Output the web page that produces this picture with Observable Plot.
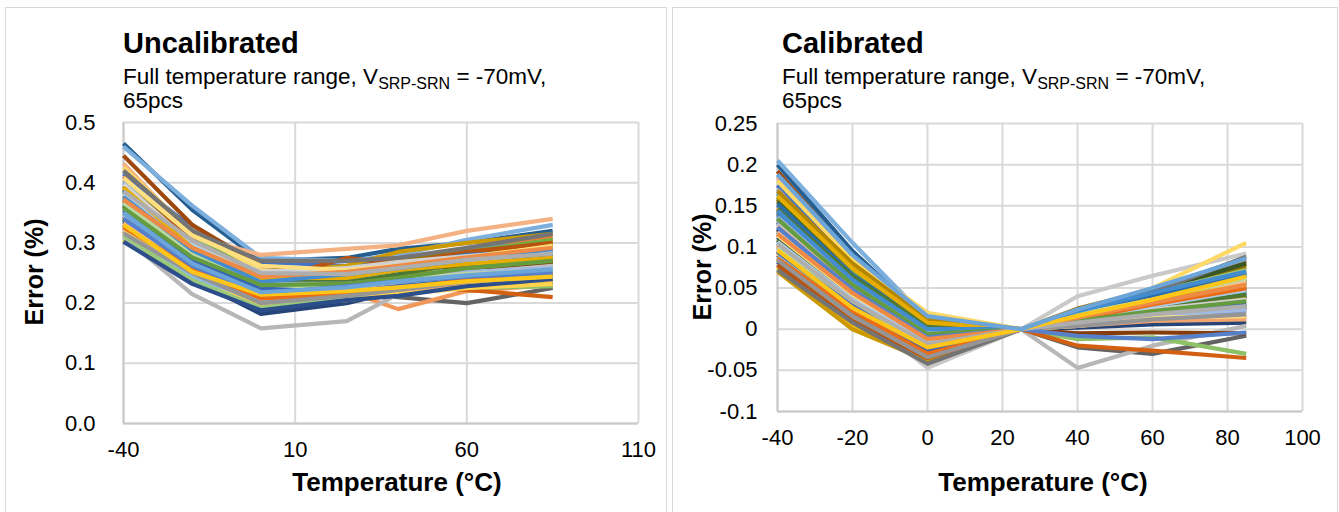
<!DOCTYPE html>
<html>
<head>
<meta charset="utf-8">
<script src="https://cdn.jsdelivr.net/npm/d3@7"></script>
<script src="https://cdn.jsdelivr.net/npm/@observablehq/plot@0.6"></script>
<style>
  html, body { margin: 0; padding: 0; background: #fff; }
  #wrap { position: relative; width: 1339px; height: 512px; overflow: hidden; background: #fff; }
  .panel { position: absolute; border: 1px solid #d9d9d9; box-sizing: border-box; }
  .plot { position: absolute; top: 0; }
  #overlay { position: absolute; left: 0; top: 0; pointer-events: none; }
  #overlay text { font-family: "Liberation Sans", Arial, sans-serif; fill: #000; }
</style>
</head>
<body>
<div id="wrap">
  <div class="panel" style="left:5px;top:7px;width:662px;height:530px"></div>
  <div class="panel" style="left:672px;top:7px;width:666px;height:530px"></div>
  <div class="plot" id="left" style="left:5px"></div>
  <div class="plot" id="right" style="left:673px"></div>
  <svg id="overlay" width="1339" height="512"></svg>
</div>
<script>
// ---------------- data ----------------
const temps = [-40, -20, 0, 25, 40, 60, 85];

const xTicksUncal = [-40, 10, 60, 110];
const yTicksUncal = [0, 0.1, 0.2, 0.3, 0.4, 0.5];
const xTicksCal = [-40, -20, 0, 20, 40, 60, 80, 100];
const yTicksCal = [-0.1, -0.05, 0, 0.05, 0.1, 0.15, 0.2, 0.25];

// Error (%) per unit (series order = chart series order), uncalibrated
const uncalibrated = [
  [0.415,0.325,0.268,0.262,0.268,0.280,0.305],
  [0.410,0.300,0.248,0.250,0.262,0.285,0.310],
  [0.405,0.322,0.258,0.245,0.258,0.262,0.265],
  [0.305,0.235,0.190,0.225,0.235,0.250,0.270],
  [0.400,0.295,0.245,0.248,0.270,0.290,0.300],
  [0.395,0.310,0.250,0.250,0.270,0.285,0.305],
  [0.320,0.240,0.182,0.200,0.220,0.230,0.242],
  [0.445,0.330,0.262,0.250,0.255,0.265,0.262],
  [0.360,0.280,0.222,0.215,0.210,0.200,0.225],
  [0.390,0.300,0.240,0.255,0.275,0.282,0.300],
  [0.465,0.355,0.270,0.275,0.290,0.300,0.320],
  [0.385,0.290,0.240,0.245,0.255,0.262,0.280],
  [0.380,0.285,0.235,0.240,0.250,0.260,0.290],
  [0.332,0.270,0.210,0.220,0.190,0.220,0.230],
  [0.310,0.215,0.158,0.170,0.215,0.230,0.250],
  [0.375,0.295,0.245,0.255,0.262,0.275,0.300],
  [0.460,0.362,0.275,0.270,0.280,0.305,0.330],
  [0.342,0.268,0.200,0.208,0.218,0.225,0.228],
  [0.372,0.280,0.232,0.238,0.250,0.255,0.270],
  [0.350,0.280,0.212,0.220,0.230,0.222,0.210],
  [0.370,0.275,0.228,0.240,0.245,0.258,0.262],
  [0.368,0.290,0.250,0.262,0.285,0.300,0.315],
  [0.365,0.270,0.220,0.230,0.235,0.250,0.255],
  [0.362,0.278,0.225,0.225,0.230,0.245,0.250],
  [0.358,0.272,0.238,0.245,0.255,0.270,0.285],
  [0.432,0.312,0.280,0.290,0.296,0.320,0.340],
  [0.355,0.265,0.215,0.225,0.232,0.248,0.262],
  [0.425,0.318,0.255,0.245,0.250,0.258,0.262],
  [0.352,0.268,0.230,0.240,0.250,0.262,0.278],
  [0.348,0.262,0.225,0.235,0.245,0.255,0.265],
  [0.345,0.258,0.205,0.215,0.222,0.232,0.240],
  [0.342,0.265,0.228,0.235,0.240,0.255,0.268],
  [0.340,0.255,0.220,0.225,0.232,0.240,0.245],
  [0.338,0.262,0.235,0.245,0.255,0.262,0.272],
  [0.335,0.250,0.210,0.222,0.228,0.235,0.240],
  [0.330,0.248,0.200,0.210,0.218,0.228,0.235],
  [0.328,0.255,0.215,0.222,0.230,0.245,0.258],
  [0.325,0.245,0.198,0.212,0.220,0.232,0.238],
  [0.322,0.252,0.212,0.225,0.235,0.250,0.262],
  [0.318,0.245,0.195,0.205,0.215,0.225,0.232],
  [0.315,0.242,0.205,0.218,0.228,0.240,0.255],
  [0.312,0.238,0.192,0.210,0.225,0.240,0.250],
  [0.302,0.232,0.188,0.205,0.212,0.228,0.240],
  [0.395,0.305,0.235,0.275,0.265,0.285,0.300],
  [0.420,0.320,0.270,0.270,0.275,0.292,0.315],
  [0.378,0.300,0.245,0.230,0.245,0.270,0.296],
  [0.388,0.288,0.232,0.240,0.262,0.280,0.285],
  [0.362,0.285,0.242,0.235,0.248,0.268,0.282],
  [0.345,0.275,0.232,0.232,0.240,0.252,0.258],
  [0.333,0.260,0.218,0.228,0.240,0.248,0.252],
  [0.398,0.298,0.252,0.258,0.268,0.278,0.290],
  [0.408,0.312,0.262,0.255,0.262,0.275,0.295],
  [0.382,0.296,0.238,0.252,0.260,0.270,0.285],
  [0.366,0.282,0.228,0.228,0.238,0.248,0.255],
  [0.354,0.270,0.224,0.218,0.228,0.238,0.244],
  [0.326,0.258,0.208,0.215,0.225,0.238,0.248],
  [0.316,0.250,0.200,0.212,0.222,0.235,0.245],
  [0.392,0.292,0.242,0.242,0.255,0.265,0.275],
  [0.376,0.288,0.235,0.248,0.258,0.272,0.290],
  [0.358,0.276,0.230,0.232,0.242,0.258,0.270],
  [0.340,0.262,0.216,0.228,0.236,0.244,0.250],
  [0.372,0.292,0.244,0.252,0.262,0.276,0.292],
  [0.386,0.304,0.250,0.248,0.258,0.272,0.282],
  [0.330,0.252,0.214,0.220,0.226,0.236,0.244],
  [0.350,0.266,0.218,0.226,0.236,0.246,0.256]
];

// Error (%) per unit (series order = chart series order), calibrated
const calibrated = [
  [0.175,0.078,0.010,0,0.018,0.038,0.060],
  [0.102,0.030,-0.015,0,0.018,0.042,0.083],
  [0.170,0.072,0.008,0,0.015,0.035,0.058],
  [0.075,0.005,-0.040,0,0.016,0.040,0.078],
  [0.165,0.070,0.005,0,0.012,0.030,0.052],
  [0.160,0.068,0.006,0,0.010,0.020,0.030],
  [0.095,0.025,-0.025,0,0.002,0.006,0.008],
  [0.192,0.088,0.014,0,0.008,0.012,0.015],
  [0.130,0.045,-0.010,0,-0.022,-0.030,-0.008],
  [0.158,0.065,0.004,0,0.025,0.048,0.075],
  [0.200,0.095,0.010,0,0.015,0.025,0.040],
  [0.155,0.075,0.012,0,0.020,0.042,0.068],
  [0.150,0.062,0.002,0,0.012,0.028,0.045],
  [0.148,0.060,0.000,0,0.008,0.020,0.035],
  [0.085,0.028,-0.012,0,-0.047,-0.020,0.004],
  [0.145,0.058,-0.002,0,0.018,0.040,0.062],
  [0.205,0.105,0.012,0,0.010,0.030,0.050],
  [0.110,0.034,-0.018,0,-0.012,-0.010,-0.030],
  [0.142,0.055,-0.004,0,0.010,0.024,0.040],
  [0.120,0.040,-0.010,0,-0.020,-0.026,-0.035],
  [0.140,0.052,0.000,0,0.005,0.015,0.028],
  [0.070,0.000,-0.038,0,0.010,0.032,0.060],
  [0.138,0.062,0.004,0,0.015,0.032,0.056],
  [0.135,0.050,-0.006,0,0.012,0.028,0.048],
  [0.132,0.048,-0.008,0,0.008,0.018,0.030],
  [0.185,0.082,0.018,0,0.020,0.045,0.065],
  [0.090,0.025,-0.047,0,0.040,0.065,0.092],
  [0.180,0.085,0.020,0,0.022,0.050,0.105],
  [0.128,0.052,-0.005,0,0.020,0.040,0.070],
  [0.125,0.042,-0.012,0,0.010,0.022,0.038],
  [0.122,0.046,-0.008,0,0.014,0.030,0.050],
  [0.090,0.022,-0.028,0,-0.005,-0.004,-0.005],
  [0.118,0.038,-0.014,0,0.008,0.018,0.026],
  [0.115,0.036,-0.016,0,0.016,0.036,0.058],
  [0.112,0.044,-0.006,0,0.012,0.026,0.044],
  [0.108,0.040,-0.010,0,0.022,0.046,0.080],
  [0.105,0.032,-0.020,0,0.006,0.014,0.022],
  [0.100,0.028,-0.022,0,0.004,0.010,0.012],
  [0.098,0.035,-0.012,0,0.010,0.020,0.034],
  [0.092,0.030,-0.018,0,0.014,0.030,0.052],
  [0.088,0.020,-0.030,0,0.012,0.028,0.046],
  [0.085,0.025,-0.024,0,0.020,0.044,0.072],
  [0.082,0.018,-0.032,0,0.008,0.022,0.040],
  [0.078,0.010,-0.035,0,0.006,0.016,0.026],
  [0.072,0.008,-0.042,0,0.018,0.045,0.088],
  [0.168,0.080,0.012,0,0.012,0.025,0.040],
  [0.152,0.066,0.006,0,0.020,0.040,0.066],
  [0.146,0.064,0.004,0,0.014,0.026,0.042],
  [0.136,0.056,-0.004,0,0.006,0.016,0.024],
  [0.126,0.050,-0.008,0,0.016,0.034,0.058],
  [0.118,0.046,-0.012,0,0.010,0.024,0.036],
  [0.114,0.042,-0.014,0,0.004,0.014,0.016],
  [0.106,0.036,-0.016,0,0.012,0.028,0.048],
  [0.098,0.030,-0.020,0,0.018,0.036,0.062],
  [0.094,0.028,-0.026,0,0.008,0.020,0.030],
  [0.086,0.022,-0.030,0,0.012,0.030,0.050],
  [0.084,0.016,-0.034,0,0.004,0.012,0.018],
  [0.162,0.074,0.008,0,0.016,0.034,0.054],
  [0.144,0.060,0.000,0,0.022,0.044,0.070],
  [0.134,0.054,-0.006,0,0.010,0.022,0.034],
  [0.124,0.048,-0.010,0,-0.008,-0.012,-0.004],
  [0.116,0.044,-0.012,0,0.014,0.032,0.054],
  [0.104,0.034,-0.018,0,0.008,0.018,0.028],
  [0.096,0.026,-0.022,0,0.016,0.036,0.064],
  [0.188,0.090,0.016,0,0.024,0.050,0.086]
];

// ---------------- styling ----------------
const accents = ["#4472C4","#ED7D31","#A5A5A5","#FFC000","#5B9BD5","#70AD47"];
const lumMods = [[1,0],[0.6,0],[0.8,0.2],[0.8,0],[0.6,0.4],[0.5,0],[0.7,0.3],[0.7,0],[0.5,0.5],[0.9,0],[0.9,0.1]];
const palette = d3.range(65).map(i => {
  const c = d3.hsl(accents[i % 6]);
  const [m, o] = lumMods[Math.floor(i / 6) % lumMods.length];
  c.l = Math.min(1, c.l * m + o);
  return c.formatHex();
});

const FONT = '"Liberation Sans", Arial, sans-serif';
const GRID = "#d9d9d9";

function toRows(series) {
  return series.flatMap((vals, unit) => vals.map((err, k) => ({unit, temp: temps[k], err})));
}

function makeChart(series, opt) {
  return Plot.plot({
    width: opt.width, height: 505,
    marginLeft: opt.ml, marginRight: opt.mr, marginTop: opt.mt, marginBottom: opt.mb,
    style: {fontFamily: FONT, fontSize: "22px", color: "#000", background: "transparent", overflow: "visible"},
    x: {domain: opt.xDomain},
    y: {domain: opt.yDomain},
    color: {type: "ordinal", domain: d3.range(series.length), range: palette},
    marks: [
      Plot.gridX(opt.xTicks, {stroke: GRID, strokeOpacity: 1, strokeWidth: 2}),
      Plot.gridY(opt.yTicks, {stroke: GRID, strokeOpacity: 1, strokeWidth: 2}),
      Plot.ruleX([opt.xDomain[0]], {stroke: "#c9c9c9", strokeWidth: 2}),
      Plot.ruleY([opt.yDomain[0]], {stroke: "#c9c9c9", strokeWidth: 2}),
      Plot.line(toRows(series), {x: "temp", y: "err", z: "unit", stroke: "unit",
        strokeWidth: 4.2, strokeLinejoin: "round", strokeLinecap: "butt"}),
      Plot.axisX(opt.xTicks, {tickSize: 0, tickPadding: 18, label: null, tickFormat: d => String(d)}),
      Plot.axisY(opt.yTicks, {tickSize: 0, tickPadding: opt.yPad, label: null, tickFormat: opt.yFormat})
    ]
  });
}

document.getElementById("left").appendChild(makeChart(uncalibrated, {
  width: 660, ml: 118, mr: 27, mt: 122, mb: 82,
  xDomain: [-40, 110], yDomain: [0, 0.5],
  xTicks: xTicksUncal, yTicks: yTicksUncal, yPad: 28,
  yFormat: d3.format(".1f")
}));

document.getElementById("right").appendChild(makeChart(calibrated, {
  width: 664, ml: 104, mr: 35, mt: 123, mb: 94,
  xDomain: [-40, 100], yDomain: [-0.1, 0.25],
  xTicks: xTicksCal, yTicks: yTicksCal, yPad: 20,
  yFormat: d => String(+d.toFixed(2))
}));

// ---------------- titles ----------------
const ov = d3.select("#overlay");
function panelText(x0, yTitleX, xTitleCx, yTitleCy, title) {
  ov.append("text").attr("x", x0).attr("y", 53).attr("font-size", 29).attr("font-weight", "bold").text(title);
  const s = ov.append("text").attr("x", x0).attr("y", 84).attr("font-size", 22.5);
  s.append("tspan").text("Full temperature range, V");
  s.append("tspan").attr("font-size", 16).attr("dy", 5).text("SRP-SRN");
  s.append("tspan").attr("dy", -5).text(" = -70mV,");
  ov.append("text").attr("x", x0).attr("y", 108).attr("font-size", 22.5).text("65pcs");
  ov.append("text").attr("transform", `translate(${yTitleX},${yTitleCy}) rotate(-90)`)
    .attr("text-anchor", "middle").attr("font-size", 25).attr("font-weight", "bold").text("Error (%)");
  ov.append("text").attr("x", xTitleCx).attr("y", 491).attr("text-anchor", "middle")
    .attr("font-size", 26).attr("font-weight", "bold").text("Temperature (°C)");
}
panelText(123, 43, 397, 272, "Uncalibrated");
panelText(782, 711, 1043, 267, "Calibrated");
</script>
</body>
</html>
